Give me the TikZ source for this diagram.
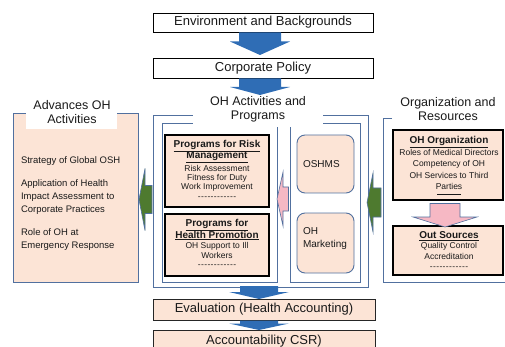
\documentclass[tikz,border=0pt]{standalone}
\usepackage{fontspec}
\setmainfont{Liberation Sans}
\usetikzlibrary{calc}
\definecolor{peach}{HTML}{FCE4D6}
\definecolor{framec}{HTML}{51709F}
\definecolor{arrblue}{HTML}{2F6DB5}
\definecolor{arrgreen}{HTML}{4E7A2F}
\definecolor{arrpink}{HTML}{F6B8C4}
\definecolor{txt}{HTML}{1A1A1A}
\newcommand{\dashrow}{-\kern0.4pt-\kern0.4pt-\kern0.4pt-\kern0.4pt-\kern0.4pt-\kern0.4pt-\kern0.4pt-\kern0.4pt-\kern0.4pt-\kern0.4pt-\kern0.4pt-}
% block arrow pointing down: style, cx, top, wing, tip, shaft half, head half
\newcommand{\blkdown}[7]{\path[#1] (#2-#6,#3) -- (#2+#6,#3) -- (#2+#6,#4) -- (#2+#7,#4) -- (#2,#5) -- (#2-#7,#4) -- (#2-#6,#4) -- cycle;}
% block arrow pointing left: style, cy, right, wing, tip, shaft half, head half
\newcommand{\blkleft}[7]{\path[#1] (#3,#2-#6) -- (#3,#2+#6) -- (#4,#2+#6) -- (#4,#2+#7) -- (#5,#2) -- (#4,#2-#7) -- (#4,#2-#6) -- cycle;}
\begin{document}
\begin{tikzpicture}[x=1pt,y=-1pt,
  every node/.style={inner sep=0pt, outer sep=0pt, text=txt},
  bigfont/.style={font=\fontsize{13}{14}\selectfont},
  titlefont/.style={font=\fontsize{12.5}{14}\selectfont},
  plainbox/.style={draw=black, line width=0.9pt, fill=white, bigfont},
  peachbox/.style={draw=black!85, line width=0.9pt, fill=peach, bigfont},
  thickbox/.style={draw=black, line width=1.4pt, fill=peach},
  framebox/.style={draw=framec, line width=0.9pt},
  roundbox/.style={draw=framec, line width=0.9pt, fill=peach, rounded corners=8pt},
  patch/.style={fill=white},
  smalltext/.style={align=center, font=\fontsize{8.5}{9.2}\selectfont},
  bluearr/.style={fill=arrblue},
  greenarr/.style={fill=arrgreen, draw=framec, line width=0.6pt},
  pinkarr/.style={fill=arrpink, draw=framec, line width=0.6pt}]
\useasboundingbox (0,0) rectangle (505,347);

% top boxes
\node[plainbox, minimum width=220, minimum height=19] (env) at (263,22.5) {Environment and Backgrounds};
\node[plainbox, minimum width=220, minimum height=20] (pol) at (263,68) {Corporate Policy};

% left panel
\node[framebox, fill=peach, minimum width=125, minimum height=169] (adv) at (75.5,197.5) {};
\node[patch, minimum width=91, minimum height=29] (advpatch) at (71.5,114.5) {};
\node[titlefont, align=center] (advt) at (72,112.5) {Advances OH\\Activities};
\node[anchor=north west, align=left, font=\fontsize{9.5}{13}\selectfont] (advtext) at (21,156.5)
  {Strategy of Global OSH\\[10pt]Application of Health\\Impact Assessment to\\Corporate Practices\\[10pt]Role of OH at\\Emergency Response};

% central panel
\node[framebox, minimum width=215, minimum height=172] (act) at (260.5,201) {};
\node[framebox, minimum width=115, minimum height=159] (actL) at (219.5,202.5) {};
\node[framebox, minimum width=70, minimum height=159] (actR) at (325,202.5) {};
\node[patch, minimum width=130, minimum height=32] (actpatch) at (258,111) {};
\node[titlefont, align=center] (actt) at (258,109) {OH Activities and\\Programs};

\node[thickbox, minimum width=104, minimum height=72] (risk) at (217,171) {};
\node[smalltext, anchor=north] (risktxt) at ($(risk.north)+(0,5)$)
  {{\bfseries\fontsize{10}{11}\selectfont\underline{Programs for Risk}}\\[-0.5pt]
   {\bfseries\fontsize{10}{11}\selectfont\underline{Management}}\\[1.2pt]
   Risk Assessment\\Fitness for Duty\\Work Improvement\\[1pt]\dashrow};
\node[thickbox, minimum width=104, minimum height=62] (health) at (217,245) {};
\node[smalltext, anchor=north] (healthtxt) at ($(health.north)+(0,5)$)
  {{\bfseries\fontsize{10}{11}\selectfont\underline{Programs for}}\\[-0.5pt]
   {\bfseries\fontsize{10}{11}\selectfont\underline{Health Promotion}}\\[1.2pt]
   OH Support to Ill\\[0.5pt]Workers\\[0.5pt]\dashrow};

\node[roundbox, minimum width=57, minimum height=58] (oshms) at (325.5,164) {};
\node[anchor=west, font=\fontsize{10}{13}\selectfont] (oshmst) at (303,164) {OSHMS};
\node[roundbox, minimum width=57, minimum height=60] (mkt) at (325.5,243) {};
\node[anchor=west, align=left, font=\fontsize{10}{13}\selectfont] (mktt) at (303,238.5) {OH\\Marketing};

% right panel
\coordinate (brA) at (392,118);
\coordinate (brB) at (383,118);
\coordinate (brC) at (383,282);
\coordinate (brD) at (506,282);
\draw[framec, line width=0.9pt] (brA) -- (brB) -- (brC) -- (brD);
\node[titlefont, align=center] (orgt) at (448,109.5) {Organization and\\Resources};
\node[thickbox, minimum width=110, minimum height=70] (org) at (448,165) {};
\node[smalltext, anchor=north] (orgtxt) at ($(org.north)+(1,6)$)
  {{\bfseries\fontsize{10}{11}\selectfont\underline{OH Organization}}\\[0.8pt]
   Roles of Medical Directors\\[2.2pt]Competency of OH\\[2.2pt]OH Services to Third\\[2.5pt]Parties\\[-2pt]\rule[2.5pt]{24pt}{0.7pt}};
\node[thickbox, minimum width=110, minimum height=49] (out) at (448,250.5) {};
\node[smalltext, anchor=north] (outtxt) at ($(out.north)+(1,5.5)$)
  {{\bfseries\fontsize{10}{11}\selectfont\underline{Out Sources}}\\[0.8pt]
   Quality Control\\[2pt]Accreditation\\[1pt]\dashrow};

% bottom boxes
\node[peachbox, minimum width=222, minimum height=21] (eval) at (264,309.5) {Evaluation (Health Accounting)};
\node[peachbox, minimum width=222, minimum height=22] (acc) at (264,341) {Accountability CSR)};

% block arrows
\blkdown{bluearr}{260}{32.5}{41.5}{55}{21}{30}
\blkdown{bluearr}{260}{78.5}{87}{95}{21}{30}
\blkdown{bluearr}{259}{286}{292}{299}{19}{30}
\blkdown{bluearr}{259}{320.5}{323.5}{330}{19}{30}
\blkleft{greenarr}{199.5}{152}{145}{139}{14}{31}
\blkleft{greenarr}{202.5}{381}{373}{367}{14.5}{29.5}
\blkleft{pinkarr}{199}{288.5}{283}{277}{12}{27}
\blkdown{pinkarr}{445}{203.5}{217}{227}{15}{32}
\end{tikzpicture}
\end{document}
